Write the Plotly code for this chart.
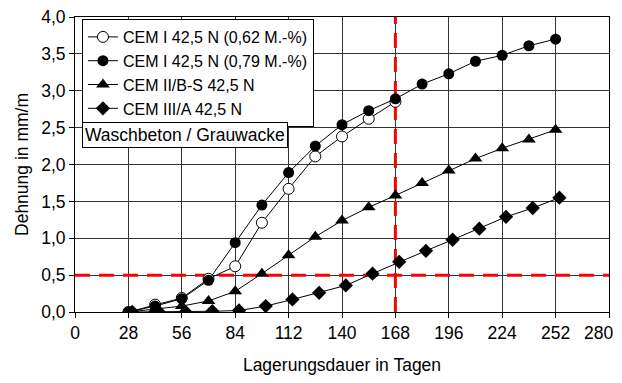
import plotly.graph_objects as go

days = [28, 42, 56, 70, 84, 98, 112, 126, 140, 154, 168, 182, 196, 210, 224, 238, 252]
days_open = [28, 42, 56, 70, 84, 98, 112, 126, 140, 154, 168]
days_diamond = [30, 44, 58, 72, 86, 100, 114, 128, 142, 156, 170, 184, 198, 212, 226, 240, 254]

cem1_062 = [0.00, 0.10, 0.19, 0.45, 0.62, 1.21, 1.67, 2.11, 2.38, 2.62, 2.85]
cem1_079 = [0.00, 0.08, 0.18, 0.43, 0.94, 1.45, 1.89, 2.25, 2.54, 2.73, 2.89,
            3.09, 3.23, 3.40, 3.48, 3.61, 3.70]
cem2_bs = [0.00, 0.04, 0.08, 0.15, 0.28, 0.52, 0.77, 1.02, 1.24, 1.42, 1.58,
           1.75, 1.92, 2.08, 2.22, 2.34, 2.47]
cem3_a = [0.00, 0.00, 0.00, 0.01, 0.02, 0.08, 0.17, 0.26, 0.36, 0.52, 0.68,
          0.83, 0.98, 1.13, 1.29, 1.41, 1.55]

names = ["CEM I 42,5 N (0,62 M.-%)", "CEM I 42,5 N (0,79 M.-%)",
         "CEM II/B-S 42,5 N", "CEM III/A 42,5 N"]

x_ticks = list(range(0, 281, 28))
x_ticktext = [str(v) for v in x_ticks]
y_ticks = [0, 0.5, 1.0, 1.5, 2.0, 2.5, 3.0, 3.5, 4.0]
limit_days = 168
limit_strain = 0.5

FONT = "Liberation Sans, Arial, sans-serif"
FS = 17.5

fig = go.Figure()
line = dict(color="black", width=1)
fig.add_trace(go.Scatter(x=days_open, y=cem1_062, name=names[0], mode="lines+markers",
                         line=line, marker=dict(symbol="circle", size=11, color="white",
                                                line=dict(color="black", width=1))))
fig.add_trace(go.Scatter(x=days, y=cem1_079, name=names[1], mode="lines+markers",
                         line=line, marker=dict(symbol="circle", size=11, color="black")))
fig.add_trace(go.Scatter(x=days, y=cem2_bs, name=names[2], mode="lines+markers",
                         line=line, marker=dict(symbol="triangle-up", size=12, color="black")))
fig.add_trace(go.Scatter(x=days_diamond, y=cem3_a, name=names[3], mode="lines+markers",
                         line=line, marker=dict(symbol="diamond", size=11, color="black")))

red = dict(color="#ff0000", width=3, dash="15px,9px")
fig.add_shape(type="line", xref="x", yref="y", x0=0, x1=280, y0=limit_strain, y1=limit_strain,
              line=red, layer="between")
fig.add_shape(type="line", xref="x", yref="y", x0=limit_days, x1=limit_days, y0=0, y1=4,
              line=red, layer="between")

PLOT_TOP, PLOT_BOTTOM = 17, 312
PH = PLOT_BOTTOM - PLOT_TOP
FIG_W, FIG_H = 614, 367

fig.add_annotation(text="Waschbeton / Grauwacke", xref="paper", yref="paper",
                   x=0.013, y=(PLOT_BOTTOM - 122) / PH, xanchor="left", yanchor="top", showarrow=False,
                   font=dict(family=FONT, size=FS, color="black"),
                   bordercolor="black", borderwidth=1, borderpad=2, bgcolor="white")

# the last x tick label would be clipped by the page edge, so it is drawn right-aligned
last_label = x_ticktext[-1]
x_ticktext[-1] = ""
fig.add_annotation(text=last_label, xref="x", yref="paper", x=x_ticks[-1], y=0,
                   xanchor="right", yanchor="middle", xshift=6, yshift=-21, showarrow=False,
                   font=dict(family=FONT, size=FS, color="black"))

axis_common = dict(showline=True, linecolor="black", linewidth=1, mirror=True,
                   showgrid=True, gridcolor="#333333", gridwidth=1,
                   ticks="outside", ticklen=5, tickcolor="black", zeroline=False,
                   automargin=False, ticklabeloverflow="allow",
                   tickfont=dict(family=FONT, size=FS, color="black"))

fig.update_xaxes(range=[0, 280], tickmode="array", tickvals=x_ticks, ticktext=x_ticktext,
                 title=dict(text="Lagerungsdauer in Tagen", font=dict(family=FONT, size=FS, color="black"),
                            standoff=20),
                 **axis_common)
fig.update_yaxes(range=[0, 4], tickmode="array", tickvals=y_ticks, tickformat=".1f",
                 title=dict(text="Dehnung in mm/m", font=dict(family=FONT, size=FS, color="black"),
                            standoff=8),
                 **axis_common)

# page body has an 8px default margin, so the figure is offset by 8px
fig.update_layout(
    width=FIG_W, height=FIG_H,
    margin=dict(l=67, r=FIG_W - (609 - 8), t=PLOT_TOP - 8, b=FIG_H - (PLOT_BOTTOM - 8)),
    paper_bgcolor="white", plot_bgcolor="white",
    separators=",.",
    font=dict(family=FONT, size=FS, color="black"),
    legend=dict(x=0.013, y=(PLOT_BOTTOM - 19) / PH, xanchor="left", yanchor="top",
                bgcolor="white", bordercolor="black", borderwidth=1,
                font=dict(family=FONT, size=16, color="black"),
                tracegroupgap=0, itemwidth=30),
    showlegend=True,
)

fig.write_html("out.html")
